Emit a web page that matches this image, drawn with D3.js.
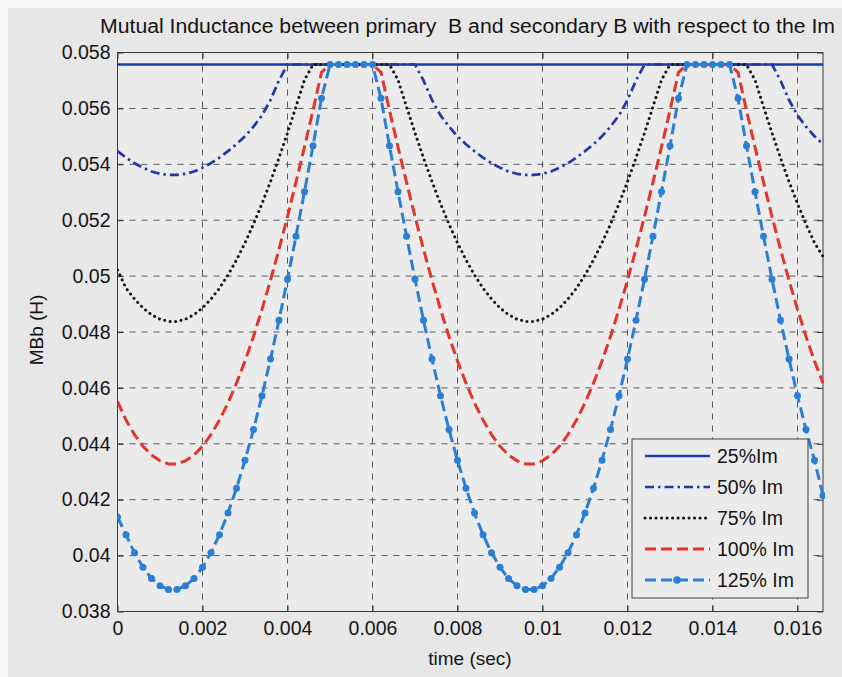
<!DOCTYPE html>
<html><head><meta charset="utf-8">
<script src="https://cdn.jsdelivr.net/npm/d3@7"></script>
<style>
html,body{margin:0;padding:0;background:#f7f7f7;}
svg{display:block;}
text{font-family:"Liberation Sans",Arial,Helvetica,sans-serif;fill:#141414;}
</style></head><body>
<svg id="chart" width="842" height="677"></svg>
<script>
// ---------- data ----------
const time = [0,0.0002,0.0004,0.0006,0.0008,0.001,0.0012,0.0014,0.0016,0.0018,
0.002,0.0022,0.0024,0.0026,0.0028,0.003,0.0032,0.0034,0.0036,0.0038,
0.004,0.0042,0.0044,0.0046,0.0048,0.005,0.0052,0.0054,0.0056,0.0058,
0.006,0.0062,0.0064,0.0066,0.0068,0.007,0.0072,0.0074,0.0076,0.0078,
0.008,0.0082,0.0084,0.0086,0.0088,0.009,0.0092,0.0094,0.0096,0.0098,
0.01,0.0102,0.0104,0.0106,0.0108,0.011,0.0112,0.0114,0.0116,0.0118,
0.012,0.0122,0.0124,0.0126,0.0128,0.013,0.0132,0.0134,0.0136,0.0138,
0.014,0.0142,0.0144,0.0146,0.0148,0.015,0.0152,0.0154,0.0156,0.0158,
0.016,0.0162,0.0164,0.0166];

const time25 = [0, 0.0166];
const mbb25 = [0.05757, 0.05757];

const mbb50 = [0.05447,0.05424,0.05404,0.05388,0.05374,0.05366,0.05362,
0.05362,0.05366,0.05374,0.05388,0.05404,0.05424,0.05447,0.05472,0.05500,0.05535,0.05575,0.05630,0.05700,0.05757,0.05757,0.05757,0.05757,0.05757,0.05757,0.05757,0.05757,
0.05757,0.05757,0.05757,0.05757,0.05757,0.05757,0.05757,0.05757,0.05700,0.05630,0.05575,0.05535,0.05500,0.05472,0.05447,0.05424,0.05404,0.05388,0.05374,0.05366,0.05362,
0.05362,0.05366,0.05374,0.05388,0.05404,0.05424,0.05447,0.05472,0.05500,0.05535,0.05575,0.05630,0.05700,0.05757,0.05757,0.05757,0.05757,0.05757,0.05757,0.05757,0.05757,
0.05757,0.05757,0.05757,0.05757,0.05757,0.05757,0.05757,0.05757,0.05700,0.05630,0.05575,0.05535,0.05500,0.05472];

const mbb75 = [0.05022,0.04957,0.04918,0.04886,0.04862,0.04846,0.04838,
0.04838,0.04846,0.04862,0.04886,0.04918,0.04957,0.05004,0.05058,0.05119,0.05186,0.05259,0.05338,0.05423,0.05512,0.05606,0.05702,0.05757,0.05757,0.05757,0.05757,0.05757,
0.05757,0.05757,0.05757,0.05757,0.05757,0.05702,0.05606,0.05512,0.05423,0.05338,0.05259,0.05186,0.05119,0.05058,0.05004,0.04957,0.04918,0.04886,0.04862,0.04846,0.04838,
0.04838,0.04846,0.04862,0.04886,0.04918,0.04957,0.05004,0.05058,0.05119,0.05186,0.05259,0.05338,0.05423,0.05512,0.05606,0.05702,0.05757,0.05757,0.05757,0.05757,0.05757,
0.05757,0.05757,0.05757,0.05757,0.05757,0.05702,0.05606,0.05512,0.05423,0.05338,0.05259,0.05186,0.05119,0.05070];

const mbb100 = [0.04552,0.04485,0.04433,0.04391,0.04360,0.04339,0.04328,
0.04328,0.04339,0.04360,0.04391,0.04433,0.04485,0.04546,0.04617,0.04696,0.04784,0.04881,0.04985,0.05096,0.05213,0.05336,0.05462,0.05593,0.05729,0.05757,0.05757,0.05757,
0.05757,0.05757,0.05757,0.05729,0.05593,0.05462,0.05336,0.05213,0.05096,0.04985,0.04881,0.04784,0.04696,0.04617,0.04546,0.04485,0.04433,0.04391,0.04360,0.04339,0.04328,
0.04328,0.04339,0.04360,0.04391,0.04433,0.04485,0.04546,0.04617,0.04696,0.04784,0.04881,0.04985,0.05096,0.05213,0.05336,0.05462,0.05593,0.05729,0.05757,0.05757,0.05757,
0.05757,0.05757,0.05757,0.05729,0.05593,0.05462,0.05336,0.05213,0.05096,0.04985,0.04881,0.04784,0.04696,0.04617];

const mbb125 = [0.04138,0.04075,0.04010,0.03958,0.03918,0.03892,0.03879,
0.03879,0.03892,0.03918,0.03958,0.04010,0.04075,0.04152,0.04241,0.04341,0.04451,0.04572,0.04703,0.04842,0.04989,0.05143,0.05302,0.05466,0.05636,0.05757,0.05757,0.05757,
0.05757,0.05757,0.05757,0.05636,0.05466,0.05302,0.05143,0.04989,0.04842,0.04703,0.04572,0.04451,0.04341,0.04241,0.04152,0.04075,0.04010,0.03958,0.03918,0.03892,0.03879,
0.03879,0.03892,0.03918,0.03958,0.04010,0.04075,0.04152,0.04241,0.04341,0.04451,0.04572,0.04703,0.04842,0.04989,0.05143,0.05302,0.05466,0.05636,0.05757,0.05757,0.05757,
0.05757,0.05757,0.05757,0.05636,0.05466,0.05302,0.05143,0.04989,0.04842,0.04703,0.04572,0.04451,0.04341,0.04215];

const seriesNames = ["25%Im", "50% Im", "75% Im", "100% Im", "125% Im"];
const xTicks = [0,0.002,0.004,0.006,0.008,0.01,0.012,0.014,0.016];
const yTicks = [0.038,0.04,0.042,0.044,0.046,0.048,0.05,0.052,0.054,0.056,0.058];
const titleText = "Mutual Inductance between primary  B and secondary B with respect to the Im";
const xLabel = "time (sec)";
const yLabel = "MBb (H)";

// ---------- drawing ----------
const svg = d3.select("#chart");
const L = 117.5, R = 823, T = 52.5, B = 611.5;

svg.append("rect").attr("x", 8).attr("y", 8).attr("width", 834).attr("height", 669).attr("fill", "#e7e7e8");
svg.append("rect").attr("x", L).attr("y", T).attr("width", R - L).attr("height", B - T).attr("fill", "#ebebec");

const x = d3.scaleLinear().domain([0, 0.0166]).range([L, R]);
const y = d3.scaleLinear().domain([0.038, 0.058]).range([B, T]);

// grid
const grid = svg.append("g").attr("stroke", "#333").attr("stroke-width", 1)
  .attr("stroke-dasharray", "6,6").attr("opacity", 0.8);
grid.selectAll(".gx").data(xTicks.slice(1)).join("line")
  .attr("x1", d => x(d)).attr("x2", d => x(d)).attr("y1", B).attr("y2", T);
grid.selectAll(".gy").data(yTicks.slice(1, -1)).join("line")
  .attr("y1", d => y(d)).attr("y2", d => y(d)).attr("x1", L).attr("x2", R);

// axes
const fmt = d => d === 0 ? "0" : String(+d.toFixed(3));
const ax = svg.append("g").attr("transform", `translate(0,${B})`)
  .call(d3.axisBottom(x).tickValues(xTicks).tickFormat(fmt).tickSize(-6).tickSizeOuter(0).tickPadding(10));
const ay = svg.append("g").attr("transform", `translate(${L},0)`)
  .call(d3.axisLeft(y).tickValues(yTicks).tickFormat(fmt).tickSize(-6).tickSizeOuter(0).tickPadding(7));
const at = svg.append("g").attr("transform", `translate(0,${T})`)
  .call(d3.axisTop(x).tickValues(xTicks).tickFormat("").tickSize(-6).tickSizeOuter(0));
const ar = svg.append("g").attr("transform", `translate(${R},0)`)
  .call(d3.axisRight(y).tickValues(yTicks).tickFormat("").tickSize(-6).tickSizeOuter(0));
[ax, ay, at, ar].forEach(g => {
  g.select(".domain").remove();
  g.selectAll(".tick line").attr("stroke", "#333");
  g.selectAll("text").attr("font-size", 19.5).attr("fill", "#141414")
    .attr("font-family", '"Liberation Sans",Arial,Helvetica,sans-serif');
});
svg.append("rect").attr("x", L).attr("y", T).attr("width", R - L).attr("height", B - T)
  .attr("fill", "none").attr("stroke", "#3a3a3a").attr("stroke-width", 1);

// clip
svg.append("clipPath").attr("id", "clip").append("rect")
  .attr("x", L).attr("y", T - 4).attr("width", R - L + 2).attr("height", B - T + 8);

const line = d3.line().x(d => x(d[0])).y(d => y(d[1]));
const zip = (a, b) => a.map((v, i) => [v, b[i]]);

const styles = [
  {t: time25, v: mbb25, color: "#1d3aa8", w: 2.7, dash: null},
  {t: time, v: mbb50, color: "#2337a6", w: 2.7, dash: "9,4,2.5,4"},
  {t: time, v: mbb75, color: "#121a12", w: 3, dash: "0.1,5.4", cap: "round"},
  {t: time, v: mbb100, color: "#e2352c", w: 3, dash: "11,5"},
  {t: time, v: mbb125, color: "#2a7ed3", w: 3, dash: "11,5", marker: true}
];

const plot = svg.append("g").attr("clip-path", "url(#clip)");
styles.forEach(s => {
  const data = zip(s.t, s.v);
  plot.append("path").datum(data).attr("d", line).attr("fill", "none")
    .attr("stroke", s.color).attr("stroke-width", s.w)
    .attr("stroke-dasharray", s.dash).attr("stroke-linecap", s.cap || "butt")
    .attr("stroke-linejoin", "round");
  if (s.marker) {
    plot.append("g").selectAll("circle").data(data).join("circle")
      .attr("cx", d => x(d[0])).attr("cy", d => y(d[1])).attr("r", 3.5).attr("fill", s.color);
  }
});

// title and labels
svg.append("text").attr("x", 467.5).attr("y", 33).attr("text-anchor", "middle")
  .attr("font-size", 20).attr("textLength", 735).attr("lengthAdjust", "spacingAndGlyphs")
  .style("white-space", "pre").text(titleText);
svg.append("text").attr("x", 470).attr("y", 665).attr("text-anchor", "middle")
  .attr("font-size", 19).text(xLabel);
svg.append("text").attr("transform", "translate(43,330) rotate(-90)").attr("text-anchor", "middle")
  .attr("font-size", 19).text(yLabel);

// legend
const lg = svg.append("g");
lg.append("rect").attr("x", 632).attr("y", 439).attr("width", 176).attr("height", 159)
  .attr("fill", "#ebebec").attr("stroke", "#444").attr("stroke-width", 1);
styles.forEach((s, i) => {
  const yy = 456 + i * 31;
  lg.append("line").attr("x1", 645).attr("x2", 710).attr("y1", yy).attr("y2", yy)
    .attr("stroke", s.color).attr("stroke-width", s.w)
    .attr("stroke-dasharray", s.dash).attr("stroke-linecap", s.cap || "butt");
  if (s.marker) lg.append("circle").attr("cx", 677).attr("cy", yy).attr("r", 3.8).attr("fill", s.color);
  lg.append("text").attr("x", 717).attr("y", yy).attr("dy", "0.36em").attr("font-size", 19.5).text(seriesNames[i]);
});
</script>
</body></html>
